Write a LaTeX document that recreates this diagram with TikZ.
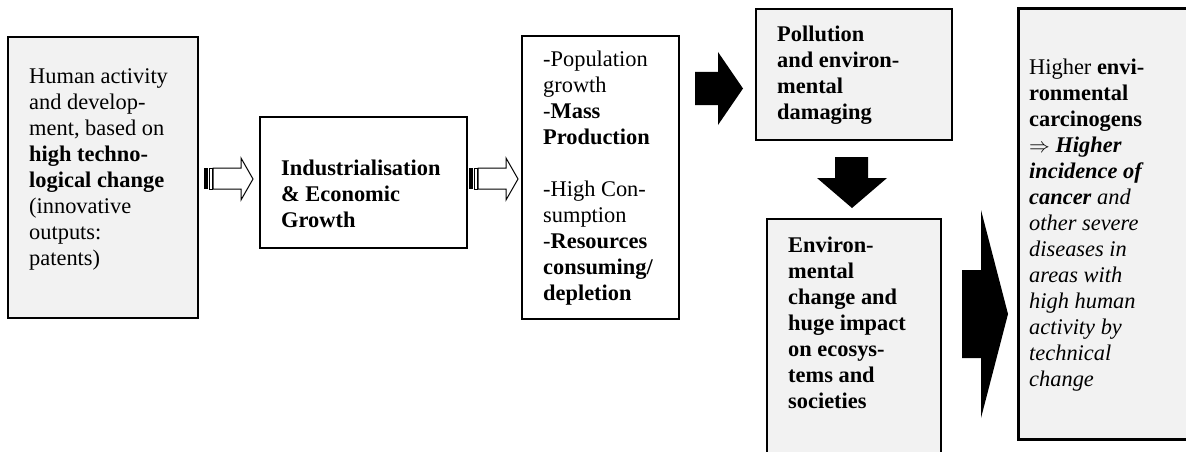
\documentclass[tikz,border=0pt]{standalone}
\usepackage{fontspec}
\setmainfont{Liberation Serif}
\definecolor{boxgrey}{HTML}{F2F2F2}
\begin{document}
\begin{tikzpicture}[x=1pt,y=-1pt,
  box/.style={draw=black, line width=1.3pt, inner sep=0pt, outer sep=0pt, anchor=north west},
  greybox/.style={box, fill=boxgrey},
  whitebox/.style={box, fill=white},
  txt/.style={anchor=north west, inner sep=0pt, align=left, font=\fontsize{22.4}{26}\selectfont},
  openarrow/.style={draw=black, line width=1pt, fill=white, line join=miter},
  blackarrow/.style={fill=black}]
\clip (0,0) rectangle (1186,452);
\fill[white] (0,0) rectangle (1186,452);

% boxes
\node[greybox, line width=1.8pt, minimum width=190pt, minimum height=281pt] (b1) at (8,37) {};
\node[whitebox, minimum width=207pt, minimum height=131pt] (b2) at (260,117) {};
\node[whitebox, minimum width=157pt, minimum height=283pt] (b3) at (522,36) {};
\node[greybox, minimum width=196pt, minimum height=131pt] (b4) at (756,9) {};
\node[greybox, minimum width=174pt, minimum height=260pt] (b5) at (767,219) {};
\node[greybox, line width=3pt, minimum width=230pt, minimum height=430pt] (b6) at (1018,9) {};

% texts (first baseline minus strut height 18.2)
\node[txt] (t1) at (29,64.8) {\strut Human activity\\ and develop-\\ ment, based on\\ \textbf{high techno-}\\ \textbf{logical change}\\ (innovative\\ outputs:\\ patents)};
\node[txt] (t2) at (281,156.8) {\strut\textbf{Industrialisation}\\ \textbf{\& Economic}\\ \textbf{Growth}};
\node[txt] (t3) at (543,48.5) {\strut -Population\\ growth\\ -\textbf{Mass}\\ \textbf{Production}\\[26pt] -High Con-\\ sumption\\ -\textbf{Resources}\\ \textbf{consuming/}\\ \textbf{depletion}};
\node[txt] (t4) at (777,22.8) {\strut\textbf{Pollution}\\ \textbf{and environ-}\\ \textbf{mental}\\ \textbf{damaging}};
\node[txt] (t5) at (788,233.8) {\strut\textbf{Environ-}\\ \textbf{mental}\\ \textbf{change and}\\ \textbf{huge impact}\\ \textbf{on ecosys-}\\ \textbf{tems and}\\ \textbf{societies}};
\node[txt] (t6) at (1029,56.3) {\strut Higher \textbf{envi-}\\ \textbf{ronmental}\\ \textbf{carcinogens}\\ $\Rightarrow$ \textbf{\textit{Higher}}\\ \textbf{\textit{incidence of}}\\ \textbf{\textit{cancer}} \textit{and}\\ \textit{other severe}\\ \textit{diseases in}\\ \textit{areas with}\\ \textit{high human}\\ \textit{activity by}\\ \textit{technical}\\ \textit{change}};

% striped open arrow 1
\fill[black] (204,168) rectangle (208,189);
\draw[line width=0.8pt] (209.5,168) rectangle (212,189);
\draw[openarrow] (213,168) -- (241,168) -- (241,158) -- (253,179) -- (241,200) -- (241,189) -- (213,189) -- cycle;

% striped open arrow 2
\fill[black] (469,168) rectangle (473,189);
\draw[line width=0.8pt] (474.5,168) rectangle (477,189);
\draw[openarrow] (478,168) -- (506,168) -- (506,158) -- (518,179) -- (506,200) -- (506,189) -- (478,189) -- cycle;

% black arrow right
\fill[blackarrow] (695,72) -- (718,72) -- (718,52) -- (743,88.5) -- (718,125) -- (718,105) -- (695,105) -- cycle;

% black arrow down
\fill[blackarrow] (835,157) -- (868,157) -- (868,178) -- (887,178) -- (852,208) -- (817,178) -- (835,178) -- cycle;

% big black arrow
\fill[blackarrow] (962,270) -- (981,270) -- (981,210) -- (1008,314) -- (981,418) -- (981,358) -- (962,358) -- cycle;
\end{tikzpicture}
\end{document}
